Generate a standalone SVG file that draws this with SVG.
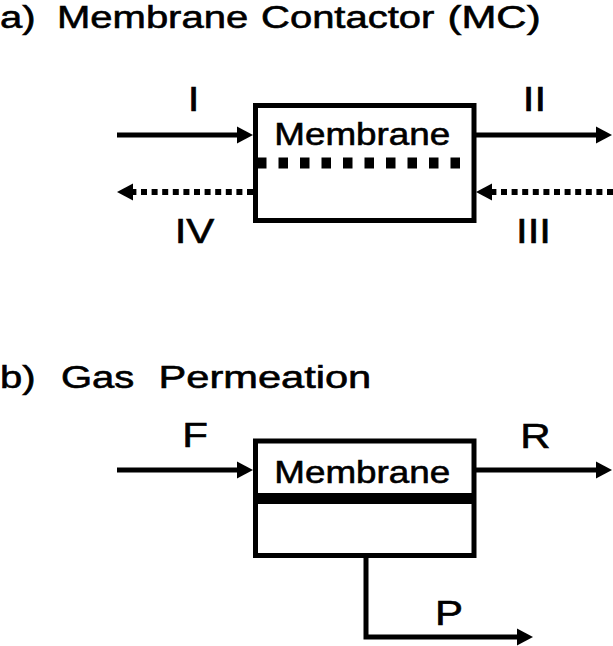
<svg xmlns="http://www.w3.org/2000/svg" width="613" height="646" viewBox="0 0 613 646">
<style>
text{font-family:"Liberation Sans",Arial,sans-serif;fill:#000;stroke:#000;stroke-width:0.6}
.title{font-size:32px}
.lbl{font-size:35px;text-anchor:middle}
.box{fill:#fff;stroke:#000;stroke-width:5}
.flow{fill:none;stroke:#000;stroke-width:5}
.dot{fill:none;stroke:#000;stroke-width:6;stroke-dasharray:6 4.6}
.head{fill:#000}
</style>
<text class="title" transform="translate(0,28) scale(1.25,1)">a)</text>
<text class="title" transform="translate(57,28) scale(1.25,1)">Membrane</text>
<text class="title" transform="translate(261,28) scale(1.25,1)">Contactor</text>
<text class="title" transform="translate(447.5,28) scale(1.31,1)">(MC)</text>
<text class="title" transform="translate(0,388) scale(1.25,1)">b)</text>
<text class="title" transform="translate(61,388) scale(1.25,1)">Gas</text>
<text class="title" transform="translate(158.5,388) scale(1.3,1)">Permeation</text>

<g id="mc">
<rect class="box" x="255.5" y="105.5" width="218.5" height="115"/>
<line x1="257" y1="163" x2="461" y2="163" stroke="#000" stroke-width="11" stroke-dasharray="9.5 12"/>
<text font-size="32" transform="translate(274.3,145) scale(1.15,1)">Membrane</text>
</g>
<g id="gp">
<rect class="box" x="255.5" y="441" width="218.5" height="114.5"/>
<line x1="255.5" y1="498.5" x2="474" y2="498.5" stroke="#000" stroke-width="11"/>
<text font-size="32" transform="translate(274.3,483) scale(1.15,1)">Membrane</text>
</g>

<g id="connectors">
<line class="flow" x1="117" y1="135" x2="241" y2="135"/>
<path class="head" d="M237,126.5 L253,135 L237,143.5 z"/>
<line class="flow" x1="476" y1="135" x2="600" y2="135"/>
<path class="head" d="M596,126.5 L612,135 L596,143.5 z"/>
<line class="dot" x1="613" y1="192" x2="488" y2="192"/>
<path class="head" d="M492,183.5 L476,192 L492,200.5 z"/>
<line class="dot" x1="253" y1="192" x2="129" y2="192"/>
<path class="head" d="M133,183.5 L117,192 L133,200.5 z"/>
<line class="flow" x1="117" y1="470" x2="241" y2="470"/>
<path class="head" d="M237,461.5 L253,470 L237,478.5 z"/>
<line class="flow" x1="476" y1="470" x2="600" y2="470"/>
<path class="head" d="M596,461.5 L612,470 L596,478.5 z"/>
<polyline class="flow" points="366,558 366,637 521,637"/>
<path class="head" d="M517,628.5 L533,637 L517,645.5 z"/>
<text class="lbl" transform="translate(193.5,111) scale(1.2,1)">I</text>
<text class="lbl" transform="translate(534.5,111) scale(1.2,1)">II</text>
<text class="lbl" transform="translate(194.5,243) scale(1.2,1)">IV</text>
<text class="lbl" transform="translate(533.5,243) scale(1.2,1)">III</text>
<text class="lbl" transform="translate(195,447) scale(1.2,1)">F</text>
<text class="lbl" transform="translate(535.5,448) scale(1.2,1)">R</text>
<text class="lbl" transform="translate(449,625) scale(1.2,1)">P</text>
</g>
</svg>
